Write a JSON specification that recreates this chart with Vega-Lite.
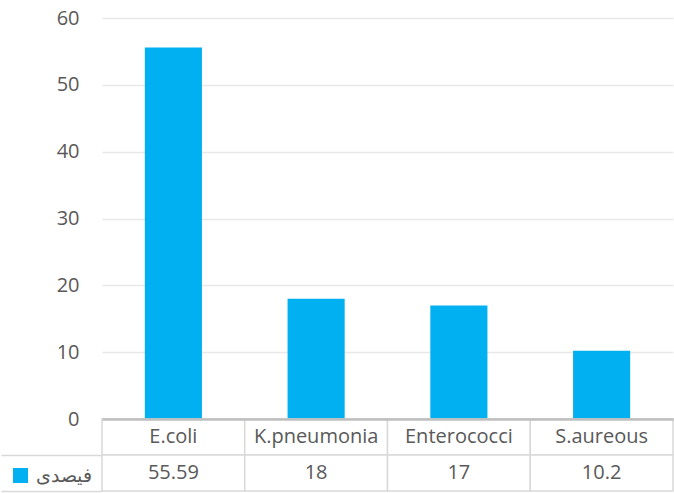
{
  "$schema": "https://vega.github.io/schema/vega-lite/v6.json",
  "padding": {"left": 0, "top": 8, "right": 2, "bottom": 2},
  "background": "white",
  "spacing": 0,
  "bounds": "flush",
  "config": {
    "view": {"stroke": null},
    "font": "Open Sans",
    "axis": {"labelFont": "Open Sans", "labelColor": "#595959"}
  },
  "data": {
    "values": [
      {"organism": "E.coli", "percent": 55.59, "series": "فيصدى"},
      {"organism": "K.pneumonia", "percent": 18, "series": "فيصدى"},
      {"organism": "Enterococci", "percent": 17, "series": "فيصدى"},
      {"organism": "S.aureous", "percent": 10.2, "series": "فيصدى"}
    ]
  },
  "vconcat": [
    {
      "width": 571,
      "height": 401,
      "mark": {"type": "bar"},
      "encoding": {
        "x": {
          "field": "organism", "type": "nominal", "sort": null,
          "scale": {"paddingInner": 0.6, "paddingOuter": 0.3},
          "axis": {"labels": false, "ticks": false, "title": null, "domainColor": "#bfbfbf", "domainWidth": 2.5, "labelPadding": 0, "minExtent": 0, "maxExtent": 0}
        },
        "y": {
          "field": "percent", "type": "quantitative",
          "scale": {"domain": [0, 60], "nice": false},
          "axis": {
            "title": null, "values": [0, 10, 20, 30, 40, 50, 60], "domain": false, "ticks": false,
            "labelPadding": 23, "labelFontSize": 20, "gridColor": "#e8e8e8", "gridWidth": 1.5
          }
        },
        "color": {
          "field": "series", "type": "nominal",
          "scale": {"range": ["#00b0f0"]},
          "legend": {
            "title": null, "orient": "none", "legendX": -91, "legendY": 448,
            "symbolType": "square", "symbolSize": 225, "symbolStrokeWidth": 0,
            "labelFontSize": 19, "labelColor": "#595959", "labelOffset": 6
          }
        }
      }
    },
    {
      "width": 571,
      "height": 72,
      "transform": [{"fold": ["organism", "percent"], "as": ["row", "cell"]}],
      "encoding": {
        "x": {
          "field": "organism", "type": "nominal", "sort": null,
          "scale": {"paddingInner": 0, "paddingOuter": 0},
          "axis": {"orient": "top", "labels": false, "ticks": false, "title": null, "domainColor": "#bfbfbf", "domainWidth": 2.5, "zindex": 1, "minExtent": 0, "maxExtent": 0}
        },
        "y": {
          "field": "row", "type": "nominal", "sort": ["organism", "percent"],
          "scale": {"paddingInner": 0, "paddingOuter": 0},
          "axis": {
            "title": null, "labels": false, "domain": false, "ticks": true,
            "bandPosition": 1, "tickSize": 101, "tickColor": "#d9d9d9", "tickWidth": 1.5
          }
        }
      },
      "layer": [
        {"mark": {"type": "rect", "fill": "white", "stroke": "#d9d9d9", "strokeWidth": 1.5}},
        {
          "mark": {"type": "text", "fontSize": 20, "color": "#595959", "font": "Open Sans"},
          "encoding": {"text": {"field": "cell", "type": "nominal"}}
        }
      ]
    }
  ]
}
